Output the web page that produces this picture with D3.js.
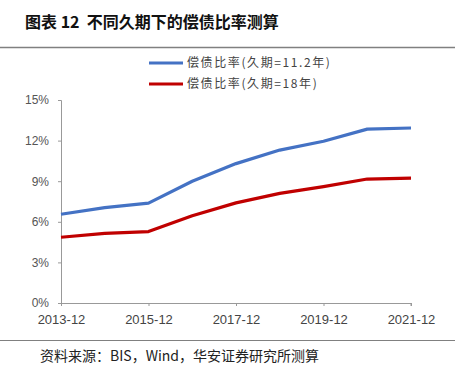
<!DOCTYPE html>
<html>
<head>
<meta charset="utf-8">
<script src="https://cdn.jsdelivr.net/npm/d3@7"></script>
<style>
  body { margin: 0; background: #fff; }
  svg { display: block; }
</style>
</head>
<body>
<div id="chart"></div>
<script>
(function() {
    'use strict';

    // Data
    var years = ['2013-12', '2014-12', '2015-12', '2016-12', '2017-12', '2018-12', '2019-12', '2020-12', '2021-12'];
    var ratio112 = [6.56, 7.05, 7.38, 9.0, 10.3, 11.3, 11.95, 12.85, 12.93];
    var ratio18 = [4.86, 5.15, 5.28, 6.45, 7.4, 8.1, 8.6, 9.16, 9.22];
    var xTickLabels = ['2013-12', '2015-12', '2017-12', '2019-12', '2021-12'];
    var yTicks = [0, 3, 6, 9, 12, 15];

    var series = [
        { name: '偿债比率(久期=11.2年)', values: ratio112, color: '#4472C4' },
        { name: '偿债比率(久期=18年)', values: ratio18, color: '#C00000' }
    ];

    var width = 455, height = 377;
    var margin = { top: 100, right: 44, bottom: 74, left: 61 };
    var innerWidth = width - margin.left - margin.right;
    var innerHeight = height - margin.top - margin.bottom;

    var cnFont = '"Noto Sans CJK SC", sans-serif';
    var numFont = '"Liberation Sans", Arial, sans-serif';

    var svg = d3.select('#chart').append('svg')
        .attr('width', width)
        .attr('height', height);

    // Title + rules
    svg.append('text')
        .attr('x', 25)
        .attr('y', 28)
        .attr('font-family', cnFont)
        .attr('font-size', '16px')
        .attr('font-weight', 700)
        .attr('fill', '#111')
        .attr('xml:space', 'preserve')
        .text('图表 12  不同久期下的偿债比率测算');

    svg.append('line')
        .attr('x1', 0).attr('x2', width)
        .attr('y1', 47.5).attr('y2', 47.5)
        .attr('stroke', '#808080').attr('stroke-width', 1.5);

    svg.append('line')
        .attr('x1', 0).attr('x2', width)
        .attr('y1', 340.5).attr('y2', 340.5)
        .attr('stroke', '#808080').attr('stroke-width', 1);

    svg.append('text')
        .attr('x', 40)
        .attr('y', 361)
        .attr('font-family', cnFont)
        .attr('font-size', '14px')
        .attr('fill', '#222')
        .text('资料来源：BIS，Wind，华安证券研究所测算');

    // Scales
    var x = d3.scalePoint().domain(years).range([0, innerWidth]);
    var y = d3.scaleLinear().domain([0, 15]).range([innerHeight, 0]);

    var g = svg.append('g')
        .attr('transform', 'translate(' + margin.left + ',' + margin.top + ')');

    // Y axis
    var yAxis = d3.axisLeft(y)
        .tickValues(yTicks)
        .tickSize(3)
        .tickPadding(9)
        .tickFormat(function(d) { return d + '%'; });

    var yg = g.append('g').call(yAxis);
    yg.select('.domain').attr('stroke', '#999').attr('d', 'M-3,0.5H0.5V' + (innerHeight + 0.5));
    yg.selectAll('.tick line').attr('stroke', '#999');
    yg.selectAll('text')
        .attr('font-family', numFont)
        .attr('font-size', '12px')
        .attr('fill', '#555');

    // X axis
    var xAxis = d3.axisBottom(x)
        .tickValues(xTickLabels)
        .tickSize(3)
        .tickPadding(9);

    var xg = g.append('g')
        .attr('transform', 'translate(0,' + innerHeight + ')')
        .call(xAxis);
    xg.select('.domain').attr('stroke', '#999').attr('d', 'M0,0.5H' + innerWidth + 'V3');
    xg.selectAll('.tick line').attr('stroke', '#999');
    xg.selectAll('text')
        .attr('font-family', numFont)
        .attr('font-size', '13px')
        .attr('fill', '#444');

    // Lines
    var line = d3.line()
        .x(function(d, i) { return x(years[i]); })
        .y(function(d) { return y(d); });

    series.forEach(function(s) {
        g.append('path')
            .datum(s.values)
            .attr('fill', 'none')
            .attr('stroke', s.color)
            .attr('stroke-width', 3.2)
            .attr('stroke-linejoin', 'round')
            .attr('d', line);
    });

    // Legend
    var legend = svg.append('g').attr('transform', 'translate(149,63)');
    series.forEach(function(s, i) {
        var ly = i * 21;
        legend.append('line')
            .attr('x1', 0).attr('x2', 34)
            .attr('y1', ly).attr('y2', ly)
            .attr('stroke', s.color)
            .attr('stroke-width', 3.2);
        legend.append('text')
            .attr('x', 38)
            .attr('y', ly + 4)
            .attr('font-family', cnFont)
            .attr('font-size', '12px')
            .attr('letter-spacing', '1.6px')
            .attr('fill', '#444')
            .text(s.name);
    });
})();
</script>
</body>
</html>
